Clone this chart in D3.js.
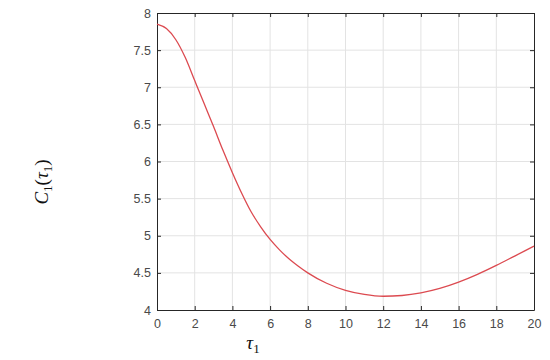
<!DOCTYPE html>
<html>
<head>
<meta charset="utf-8">
<script src="https://cdn.jsdelivr.net/npm/d3@7"></script>
<style>
  body { margin: 0; background: #fff; }
  svg { display: block; }
</style>
</head>
<body>
<script>
var width = 550,
    height = 360;

// values
var tau = [0, 0.5, 1, 1.5, 2, 2.5, 3, 3.5, 4, 4.5, 5, 5.5, 6, 6.5, 7, 7.5, 8, 9, 10, 11, 12, 13, 14, 15, 16, 17, 18, 19, 20];
var cost = [7.85, 7.79, 7.64, 7.40, 7.09, 6.78, 6.47, 6.15, 5.85, 5.57, 5.32, 5.12, 4.95, 4.81, 4.69, 4.59, 4.50, 4.36, 4.265, 4.21, 4.185, 4.195, 4.23, 4.29, 4.375, 4.48, 4.60, 4.73, 4.86];
var xTicks = [0, 2, 4, 6, 8, 10, 12, 14, 16, 18, 20];
var yTicks = [4, 4.5, 5, 5.5, 6, 6.5, 7, 7.5, 8];

// plot box (window.top is reserved, so no "top" here)
var boxL = 157, boxR = 534, boxT = 13, boxB = 310;

var x = d3.scaleLinear().domain([0, 20]).range([boxL, boxR]);
var y = d3.scaleLinear().domain([4, 8]).range([boxB, boxT]);

var svg = d3.select("body").append("svg")
    .attr("width", width)
    .attr("height", height);

// grid
svg.append("g")
  .selectAll("line")
  .data(xTicks.slice(1, -1))
  .enter().append("line")
    .attr("x1", function(d) { return x(d); })
    .attr("x2", function(d) { return x(d); })
    .attr("y1", boxT)
    .attr("y2", boxB)
    .attr("stroke", "#e3e3e3")
    .attr("stroke-width", 1);

svg.append("g")
  .selectAll("line")
  .data(yTicks.slice(1, -1))
  .enter().append("line")
    .attr("x1", boxL)
    .attr("x2", boxR)
    .attr("y1", function(d) { return y(d); })
    .attr("y2", function(d) { return y(d); })
    .attr("stroke", "#e3e3e3")
    .attr("stroke-width", 1);

// axes, ticks pointing inward like matlab
var fontAxis = "'Liberation Sans', Arial, sans-serif";
var fmt = function(d) { return String(d); };

var xAxis = svg.append("g")
    .attr("transform", "translate(0," + boxB + ")")
    .call(d3.axisBottom(x).tickValues(xTicks).tickFormat(fmt).tickSizeInner(-4).tickSizeOuter(0).tickPadding(9));
var xTop = svg.append("g")
    .attr("transform", "translate(0," + boxT + ")")
    .call(d3.axisTop(x).tickValues(xTicks).tickSizeInner(-4).tickSizeOuter(0).tickFormat(""));
var yAxis = svg.append("g")
    .attr("transform", "translate(" + boxL + ",0)")
    .call(d3.axisLeft(y).tickValues(yTicks).tickFormat(fmt).tickSizeInner(-4).tickSizeOuter(0).tickPadding(6));
var yRight = svg.append("g")
    .attr("transform", "translate(" + boxR + ",0)")
    .call(d3.axisRight(y).tickValues(yTicks).tickSizeInner(-4).tickSizeOuter(0).tickFormat(""));

[xAxis, xTop, yAxis, yRight].forEach(function(g) {
  g.select(".domain").attr("stroke", "#262626").attr("stroke-width", 1);
  g.selectAll(".tick line").attr("stroke", "#262626");
  g.selectAll(".tick text")
    .attr("fill", "#4a4a4a")
    .style("font-family", fontAxis)
    .style("font-size", "12.5px");
});

// curve
var line = d3.line()
    .x(function(d, i) { return x(tau[i]); })
    .y(function(d) { return y(d); })
    .curve(d3.curveMonotoneX);

svg.append("path")
    .datum(cost)
    .attr("d", line)
    .attr("fill", "none")
    .attr("stroke", "#dc4a50")
    .attr("stroke-width", 1.3);

// labels
var serif = "'Liberation Serif', 'DejaVu Serif', serif";

var yl = svg.append("text")
    .attr("transform", "translate(48,182) rotate(-90)")
    .attr("text-anchor", "middle")
    .style("font-family", serif)
    .style("font-size", "19px")
    .attr("fill", "#111");
yl.append("tspan").style("font-style", "italic").text("C");
yl.append("tspan").attr("dy", 4).style("font-size", "13px").text("1");
yl.append("tspan").attr("dy", -4).text("(");
yl.append("tspan").style("font-style", "italic").text("τ");
yl.append("tspan").attr("dy", 4).style("font-size", "13px").text("1");
yl.append("tspan").attr("dy", -4).text(")");

var xl = svg.append("text")
    .attr("x", 253)
    .attr("y", 349)
    .attr("text-anchor", "middle")
    .style("font-family", serif)
    .style("font-size", "19px")
    .attr("fill", "#111");
xl.append("tspan").style("font-style", "italic").text("τ");
xl.append("tspan").attr("dy", 4).style("font-size", "13px").text("1");
</script>
</body>
</html>
